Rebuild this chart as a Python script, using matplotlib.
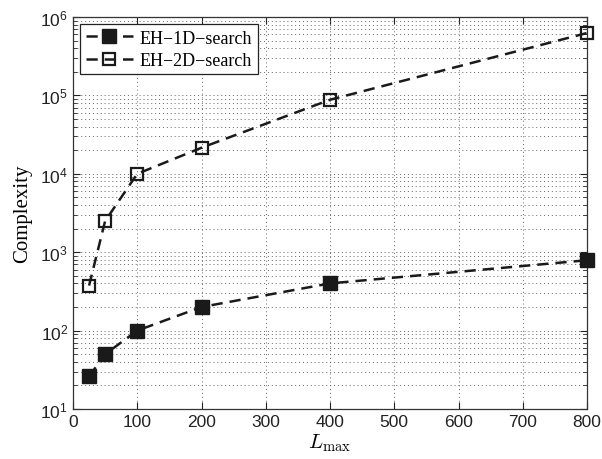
import matplotlib
matplotlib.use("Agg")
from matplotlib import pyplot as plt
from matplotlib.ticker import LogLocator, NullFormatter

# data
l_max = [25, 50, 100, 200, 400, 800]
eh_1d = [26, 50, 100, 200, 400, 790]
eh_2d = [375, 2500, 10000, 21500, 88000, 625000]
labels = ['EH\u22121D\u2212search', 'EH\u22122D\u2212search']

plt.rcParams['font.family'] = ['Liberation Sans', 'DejaVu Sans']

fig = plt.figure(figsize=(6.02, 4.60), dpi=100)
ax = fig.add_axes([73 / 602, 1 - 410 / 460, 514 / 602, 392 / 460])

ax.semilogy(l_max, eh_1d, ls=(0, (4.5, 2.8)), lw=1.8, color='#1a1a1a',
            marker='s', ms=10, mfc='#1a1a1a', mec='#1a1a1a', label=labels[0],
            clip_on=False, zorder=3)
ax.semilogy(l_max, eh_2d, ls=(0, (4.5, 2.8)), lw=1.8, color='#1a1a1a',
            marker='s', ms=9, mfc='none', mec='#1a1a1a', mew=1.6, label=labels[1],
            clip_on=False, zorder=3)

ax.set_xlim(0, 800)
ax.set_ylim(10, 1e6)
ax.set_xticks(range(0, 801, 100))
ax.yaxis.set_major_locator(LogLocator(base=10, numticks=10))
ax.yaxis.set_minor_locator(LogLocator(base=10, subs=range(2, 10), numticks=20))
ax.yaxis.set_minor_formatter(NullFormatter())

ax.grid(True, which='major', ls=(0, (1, 3)), lw=0.7, color='#666666')
ax.grid(True, which='minor', axis='y', ls=(0, (1, 3)), lw=0.7, color='#666666')

ax.tick_params(which='both', direction='in', top=True, right=True, labelsize=12.5,
               colors='#222222')
ax.tick_params(which='major', length=5)
ax.tick_params(which='minor', length=3)
for s in ax.spines.values():
    s.set_linewidth(0.9)
    s.set_color('#333333')

ax.set_xlabel(r'$L_{\max}$', fontsize=15, math_fontfamily='cm', labelpad=2)
ax.set_ylabel('Complexity', fontsize=15, family='Liberation Serif', labelpad=6)

leg = ax.legend(loc='upper left', prop={'family': 'Liberation Serif', 'size': 13},
                fancybox=False, edgecolor='#222222', framealpha=1,
                borderaxespad=0.4, handlelength=2.6, borderpad=0.3,
                labelspacing=0.3, handletextpad=0.4)
leg.get_frame().set_linewidth(0.9)

fig.savefig('out.png', dpi=100)
